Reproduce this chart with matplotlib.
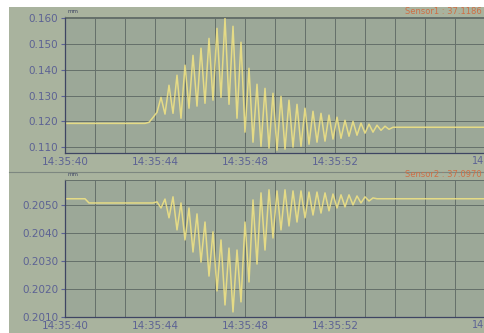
import numpy as np
import matplotlib.pyplot as plt

# sampling step of the logger (seconds), both traces share it
step = 4 / 22.5

# top trace: flat lead, oscillating burst, flat tail
top_vals = ([0.1192] * 21 +
            [0.1196, 0.1215, 0.1235, 0.1293, 0.1228, 0.1340, 0.1231, 0.1379,
             0.1212, 0.1418, 0.1251, 0.1456, 0.1259, 0.1484, 0.1270, 0.1522,
             0.1282, 0.1561, 0.1293, 0.1600, 0.1266, 0.1569, 0.1212, 0.1507,
             0.1158, 0.1406, 0.1119, 0.1344, 0.1103, 0.1328, 0.1096, 0.1309,
             0.1088, 0.1297, 0.1092, 0.1282, 0.1100, 0.1266, 0.1103, 0.1251,
             0.1111, 0.1239, 0.1119, 0.1231, 0.1123, 0.1224, 0.1131, 0.1216,
             0.1134, 0.1204, 0.1142, 0.1200, 0.1146, 0.1193, 0.1154, 0.1189,
             0.1158, 0.1185, 0.1165, 0.1181, 0.1169, 0.1177] +
            [0.1177] * 23)

# bottom trace
bot_vals = ([0.20522] * 6 + [0.20507] * 17 +
            [0.20511, 0.20489, 0.20521, 0.20454, 0.20529, 0.20411, 0.20507,
             0.20375, 0.20489, 0.20332, 0.20468, 0.20296, 0.20439, 0.20246,
             0.20404, 0.20193, 0.20375, 0.20143, 0.20346, 0.20118, 0.20339,
             0.20154, 0.20439, 0.20225, 0.20518, 0.20289, 0.20543, 0.20339,
             0.20554, 0.20382, 0.20550, 0.20411, 0.20554, 0.20425, 0.20550,
             0.20439, 0.20550, 0.20454, 0.20546, 0.20464, 0.20546, 0.20471,
             0.20543, 0.20479, 0.20539, 0.20489, 0.20536, 0.20493, 0.20536,
             0.20500, 0.20532, 0.20507, 0.20529, 0.20514, 0.20525] +
            [0.20522] * 28)

top_yticks = [0.110, 0.120, 0.130, 0.140, 0.150, 0.160]
top_ylabels = ["0.110", "0.120", "0.130", "0.140", "0.150", "0.160"]
bot_yticks = [0.2010, 0.2020, 0.2030, 0.2040, 0.2050]
bot_ylabels = ["0.2010", "0.2020", "0.2030", "0.2040", "0.2050"]
time_labels = ["14:35:40", "14:35:44", "14:35:48", "14:35:52"]
top_legend = "Sensor1 : 37.1186"
bot_legend = "Sensor2 : 37.0970"

panel_bg = "#a9b39e"
plot_bg = "#9ca898"
grid_c = "#65706a"
label_c = "#5c6294"
trace_c = "#eee184"
legend_c = "#cf6f45"

fig = plt.figure(figsize=(4.84, 3.33), dpi=100)
fig.patch.set_facecolor(panel_bg)
# white margin on the left and top of the screenshot
fig.patches.append(plt.Rectangle((0, 0), 9 / 484, 1, transform=fig.transFigure,
                                 facecolor="white", edgecolor="none", zorder=-5))
fig.patches.append(plt.Rectangle((0, 1 - 7 / 333), 1, 7 / 333, transform=fig.transFigure,
                                 facecolor="white", edgecolor="none", zorder=-5))
fig.lines.append(plt.Line2D([9 / 484, 1], [1 - 172 / 333] * 2,
                            transform=fig.transFigure, color="#7d8780", lw=0.8, zorder=-4))

ax_top = fig.add_axes([65 / 484, 1 - 153 / 333, 1 - 65 / 484, 136 / 333])
ax_bot = fig.add_axes([65 / 484, 1 - 317 / 333, 1 - 65 / 484, 137 / 333])

xmax = (484 - 65) / 22.5
grid_x = np.arange(0, xmax, 4 / 3)
tick_text = []
for i in range(len(grid_x)):
    tick_text.append(time_labels[i // 3] if i % 3 == 0 and i // 3 < len(time_labels) else "")

setups = [
    (ax_top, top_vals, (0.1077, 0.1605), top_yticks, top_ylabels, top_legend),
    (ax_bot, bot_vals, (0.2010, 0.20589), bot_yticks, bot_ylabels, bot_legend),
]
for ax, vals, ylim, yt, yl, leg in setups:
    t = step * np.arange(len(vals))
    ax.set_facecolor(plot_bg)
    ax.plot(t, vals, color=trace_c, lw=1.1, alpha=0.9)
    ax.set_xlim(0, xmax)
    ax.set_ylim(*ylim)
    ax.set_yticks(yt)
    ax.set_yticklabels(yl)
    ax.set_xticks(grid_x)
    ax.set_xticklabels(tick_text)
    ax.grid(True, color=grid_c, lw=0.7)
    ax.tick_params(axis="y", length=3, color=label_c, labelsize=7.5,
                   labelcolor=label_c, pad=2)
    ax.tick_params(axis="x", length=0, labelsize=7.5, labelcolor=label_c, pad=3)
    for s in ["top", "right"]:
        ax.spines[s].set_color(grid_c)
        ax.spines[s].set_linewidth(0.7)
    for s in ["left", "bottom"]:
        ax.spines[s].set_color("#3e4563")
        ax.spines[s].set_linewidth(0.9)
    ax.text(0.995, 1.01, leg, transform=ax.transAxes, ha="right", va="bottom",
            fontsize=6, color=legend_c)
    ax.text(0.005, 1.02, "mm", transform=ax.transAxes, ha="left", va="bottom",
            fontsize=4, color="#3e4563")
    ax.text((472 - 65) / 22.5, -0.025, "14", transform=ax.get_xaxis_transform(),
            ha="left", va="top", fontsize=7, color=label_c, clip_on=False)

fig.savefig("out.png", dpi=100)
